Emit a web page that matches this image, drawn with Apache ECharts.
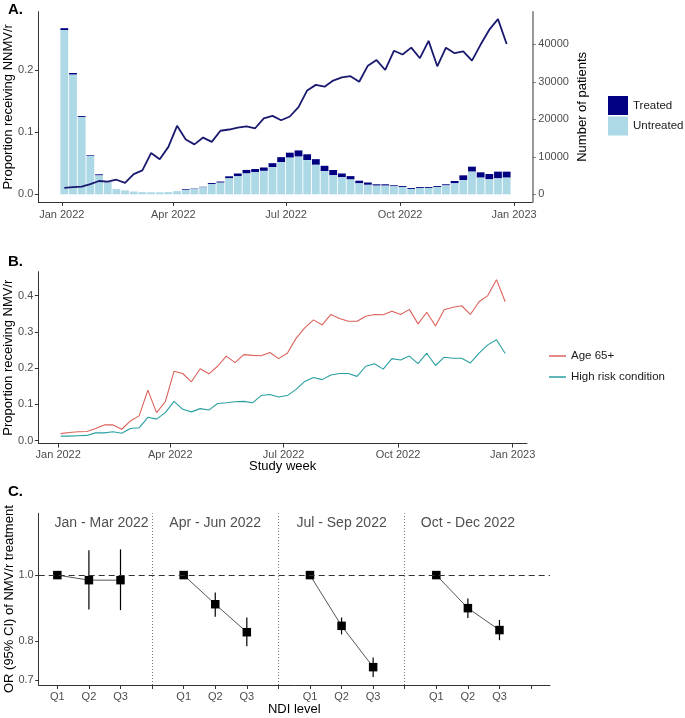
<!DOCTYPE html>
<html><head><meta charset="utf-8">
<script src="https://cdn.jsdelivr.net/npm/echarts@6/dist/echarts.min.js"></script>
<style>html,body{margin:0;padding:0;background:#fff}#c{width:685px;height:718px}</style>
</head><body><div id="c"></div>
<script>
// ---------- DATA ----------
const weeks = ['2022-01-03','2022-01-10','2022-01-17','2022-01-24','2022-01-31','2022-02-07','2022-02-14','2022-02-21','2022-02-28',
  '2022-03-07','2022-03-14','2022-03-21','2022-03-28','2022-04-04','2022-04-11','2022-04-18','2022-04-25','2022-05-02','2022-05-09',
  '2022-05-16','2022-05-23','2022-05-30','2022-06-06','2022-06-13','2022-06-20','2022-06-27','2022-07-04','2022-07-11','2022-07-18',
  '2022-07-25','2022-08-01','2022-08-08','2022-08-15','2022-08-22','2022-08-29','2022-09-05','2022-09-12','2022-09-19','2022-09-26',
  '2022-10-03','2022-10-10','2022-10-17','2022-10-24','2022-10-31','2022-11-07','2022-11-14','2022-11-21','2022-11-28','2022-12-05',
  '2022-12-12','2022-12-19','2022-12-26'];
const untreated = [43800,31900,20630,10280,5030,3040,1370,980,685,560,520,520,585,810,1130,1450,1850,2750,3100,4250,4800,5550,5950,6250,
  7250,8600,9770,10050,9120,7870,6200,5080,4550,3950,2920,2530,2310,2310,2130,1960,1430,1700,1700,1960,2370,2930,3820,6040,4440,3990,4260,4440];
const treated = [500,450,250,200,300,60,30,20,15,10,10,10,15,30,200,100,150,250,300,550,750,950,800,900,
  1050,1300,1330,1650,1550,1500,1400,1400,1000,900,710,620,360,360,270,250,250,250,250,250,300,620,1240,1330,1420,1420,1780,1600];
const propOverall = [0.010,0.011,0.012,0.016,0.021,0.020,0.023,0.018,0.032,0.038,0.066,0.056,0.076,0.110,0.088,0.080,0.091,0.084,0.102,0.104,
  0.107,0.109,0.106,0.122,0.126,0.119,0.125,0.140,0.167,0.176,0.173,0.183,0.188,0.190,0.181,0.207,0.216,0.200,0.231,0.225,
  0.236,0.219,0.247,0.206,0.236,0.227,0.230,0.215,0.241,0.265,0.282,0.242];
const propAge65 = [0.019,0.022,0.024,0.025,0.033,0.043,0.043,0.031,0.054,0.068,0.139,0.077,0.107,0.191,0.185,0.162,0.198,0.184,0.205,0.233,
  0.215,0.237,0.235,0.234,0.243,0.226,0.241,0.282,0.311,0.333,0.319,0.348,0.337,0.329,0.329,0.343,0.348,0.347,0.357,0.348,
  0.362,0.322,0.354,0.316,0.361,0.368,0.372,0.348,0.383,0.400,0.444,0.383];
const propHighRisk = [0.012,0.012,0.013,0.014,0.021,0.021,0.024,0.020,0.033,0.035,0.064,0.059,0.077,0.108,0.086,0.079,0.088,0.084,0.102,0.104,
  0.107,0.108,0.104,0.124,0.127,0.120,0.124,0.141,0.163,0.174,0.168,0.181,0.185,0.185,0.177,0.205,0.212,0.197,0.226,0.222,
  0.233,0.212,0.241,0.207,0.230,0.227,0.227,0.214,0.241,0.264,0.278,0.240];
const quarterDates = ['2022-01-01','2022-04-01','2022-07-01','2022-10-01','2023-01-01'];
const quarterLabels = ['Jan 2022','Apr 2022','Jul 2022','Oct 2022','Jan 2023'];
const ticksA_left = [0, 0.1, 0.2];
const ticksA_right = [0, 10000, 20000, 30000, 40000];
const ticksB = [0, 0.1, 0.2, 0.3, 0.4];
const ticksC = [0.7, 0.8, 1.0];
const ndiLevels = ['Q1','Q2','Q3'];
const periods = ['Jan - Mar 2022','Apr - Jun 2022','Jul - Sep 2022','Oct - Dec 2022'];
const orEst = [[1.0,0.983,0.983],[1.0,0.906,0.824],[1.0,0.842,0.732],[1.0,0.894,0.830]];
const orLo  = [[null,0.890,0.888],[null,0.868,0.786],[null,0.818,0.708],[null,0.865,0.802]];
const orHi  = [[null,1.088,1.091],[null,0.943,0.866],[null,0.866,0.756],[null,0.924,0.859]];

// ---------- helpers ----------
const FF = '"Liberation Sans", Arial, sans-serif';
const DAY = 86400000;
const ts = s => { const p = s.split('-').map(Number); return Date.UTC(p[0],p[1]-1,p[2]); };
const t0 = ts('2022-01-01');
const wDays = weeks.map(s => (ts(s) - t0)/DAY);
const qDays = quarterDates.map(s => (ts(s) - t0)/DAY);
const qLabelDay = v => { const i = qDays.findIndex(d => Math.abs(d - v) < 0.5); return i >= 0 ? quarterLabels[i] : ''; };
const tickColor = '#4d4d4d';
const axisCol = '#333';
const lblStyle = {color: tickColor, fontSize: 11, fontFamily: FF};
const nameStyle = {color: '#000', fontSize: 13, fontFamily: FF};
const BAR_W = 7.8;

const cPos = (f, j) => 4*f + j + 1;
const cLabelVals = [], cLabelText = {};
periods.forEach((p,f)=> ndiLevels.forEach((q,j)=>{ cLabelVals.push(cPos(f,j)); cLabelText[cPos(f,j)] = q; }));
const cTickVals = []; for (let i=1;i<=16;i++) cTickVals.push(i);

const chart = echarts.init(document.getElementById('c'), null, {renderer:'canvas'});

const series = [];
series.push({name:'Untreated', type:'bar', xAxisIndex:0, yAxisIndex:1, barWidth:BAR_W,
  itemStyle:{color:'#ADD8E6'}, data: wDays.map((d,i)=>[d, untreated[i]])});
// Treated segment stacked on top of the Untreated bar
series.push({name:'Treated', type:'custom', xAxisIndex:0, yAxisIndex:1, itemStyle:{color:'#000080'},
  renderItem:(params, api)=>{
    const d = api.value(0), u = api.value(1), t = api.value(2);
    const top = api.coord([d, u + t]), bot = api.coord([d, u]);
    return {type:'rect', shape:{x: top[0] - BAR_W/2, y: top[1], width: BAR_W, height: bot[1] - top[1]}, style:{fill:'#000080'}};
  },
  encode:{x:0, y:[1,2]}, data: wDays.map((d,i)=>[d, untreated[i], treated[i]])});
series.push({name:'Overall', type:'line', xAxisIndex:0, yAxisIndex:0, symbol:'none', z:5,
  lineStyle:{color:'#191970', width:1.8}, data: wDays.map((d,i)=>[d, propOverall[i]])});
series.push({name:'Age 65+', type:'line', xAxisIndex:1, yAxisIndex:2, symbol:'none',
  itemStyle:{color:'#DC625B'}, lineStyle:{color:'#DC625B', width:1.1}, data: wDays.map((d,i)=>[d, propAge65[i]])});
series.push({name:'High risk condition', type:'line', xAxisIndex:1, yAxisIndex:2, symbol:'none',
  itemStyle:{color:'#2A9FA1'}, lineStyle:{color:'#2A9FA1', width:1.1}, data: wDays.map((d,i)=>[d, propHighRisk[i]])});

const ciData = [];
periods.forEach((p,f)=>{
  series.push({name:'or'+f, type:'line', xAxisIndex:2, yAxisIndex:3, symbol:'rect', symbolSize:8.5, z:4,
    itemStyle:{color:'#000'}, lineStyle:{color:'#555', width:1},
    data: ndiLevels.map((q,j)=>[cPos(f,j), orEst[f][j]]),
    markLine: f===0 ? {silent:true, symbol:'none', label:{show:false},
      data:[{yAxis:1.0, lineStyle:{type:[6,4], color:'#333', width:1}},
            {xAxis:4, lineStyle:{type:[1,2], color:'#777', width:1}},
            {xAxis:8, lineStyle:{type:[1,2], color:'#777', width:1}},
            {xAxis:12, lineStyle:{type:[1,2], color:'#777', width:1}}]} : undefined
  });
  ndiLevels.forEach((q,j)=>{ if (orLo[f][j] != null) ciData.push([cPos(f,j), orLo[f][j], orHi[f][j]]); });
});
series.push({name:'ci', type:'custom', xAxisIndex:2, yAxisIndex:3, z:3,
  renderItem:(params, api)=>{ const a = api.coord([api.value(0), api.value(1)]); const b = api.coord([api.value(0), api.value(2)]);
    return {type:'line', shape:{x1:a[0], y1:a[1], x2:b[0], y2:b[1]}, style:{stroke:'#000', lineWidth:1.2}}; },
  encode:{x:0, y:[1,2]}, data: ciData});
const periodLabelPos = [[2.4,1.193],[6,1.193],[10,1.193],[14,1.193]];
series.push({name:'periods', type:'scatter', xAxisIndex:2, yAxisIndex:3, symbolSize:0, silent:true,
  label:{show:true, position:'inside', formatter: p => p.name, color:'#222', fontSize:14, fontFamily:FF},
  data: periods.map((p,f)=>({name:p, value: periodLabelPos[f]}))});

const yName = (text, gap) => ({name:text, nameLocation:'middle', nameGap:gap, nameRotate:90, nameMoveOverlap:false, nameTextStyle:nameStyle});

const option = {
  animation:false,
  backgroundColor:'#fff',
  title:[
    {text:'A.', left:8, top:2, padding:0, textStyle:{fontSize:15, fontWeight:'bold', color:'#000', fontFamily:FF}},
    {text:'B.', left:8, top:254, padding:0, textStyle:{fontSize:15, fontWeight:'bold', color:'#000', fontFamily:FF}},
    {text:'C.', left:8, top:484, padding:0, textStyle:{fontSize:15, fontWeight:'bold', color:'#000', fontFamily:FF}}
  ],
  legend:[
    {data:['Treated','Untreated'], orient:'vertical', left:608, top:96, padding:0, itemWidth:20, itemHeight:19, itemGap:1.5, icon:'rect',
     selectedMode:false, textStyle:{fontSize:11.5, color:'#1a1a1a', fontFamily:FF}},
    {data:['Age 65+','High risk condition'], orient:'vertical', left:549, top:350, padding:0, itemWidth:17, itemHeight:1.5, itemGap:9, icon:'rect',
     selectedMode:false, textStyle:{fontSize:11.5, color:'#1a1a1a', fontFamily:FF}}
  ],
  grid:[
    {left:38.3, top:11.7, width:494, height:190.3, containLabel:false, outerBoundsMode:'none'},
    {left:38.3, top:271.7, width:488.7, height:171.8, containLabel:false, outerBoundsMode:'none'},
    {left:38.7, top:513.3, width:511.3, height:171.7, containLabel:false, outerBoundsMode:'none'}
  ],
  xAxis:[
    {gridIndex:0, type:'value', min:-19, max:379.7, splitLine:{show:false},
     axisLine:{onZero:false, lineStyle:{color:axisCol}}, axisTick:{customValues:qDays, length:4, lineStyle:{color:axisCol}},
     axisLabel:Object.assign({customValues:qDays, formatter:qLabelDay, margin:7}, lblStyle)},
    {gridIndex:1, type:'value', min:-16, max:376.5, splitLine:{show:false},
     name:'Study week', nameLocation:'middle', nameGap:16, nameMoveOverlap:false, nameTextStyle:nameStyle,
     axisLine:{onZero:false, lineStyle:{color:axisCol}}, axisTick:{customValues:qDays, length:4, lineStyle:{color:axisCol}},
     axisLabel:Object.assign({customValues:qDays, formatter:qLabelDay, margin:6}, lblStyle)},
    {gridIndex:2, type:'value', min:0.41, max:16.6, splitLine:{show:false},
     name:'NDI level', nameLocation:'middle', nameGap:18, nameMoveOverlap:false, nameTextStyle:nameStyle,
     axisLine:{onZero:false, lineStyle:{color:axisCol}}, axisTick:{customValues:cTickVals, length:4, lineStyle:{color:axisCol}},
     axisLabel:Object.assign({customValues:cLabelVals, formatter:v=>cLabelText[Math.round(v)]||'', margin:6}, lblStyle)}
  ],
  yAxis:[
    Object.assign({gridIndex:0, type:'value', min:-0.0129, max:0.294, splitLine:{show:false},
     axisLine:{onZero:false, lineStyle:{color:axisCol}}, axisTick:{customValues:ticksA_left, length:3.5, lineStyle:{color:axisCol}},
     axisLabel:Object.assign({customValues:ticksA_left, formatter:v=>v.toFixed(1), margin:5}, lblStyle)}, yName('Proportion receiving NNMV/r', 23)),
    Object.assign({gridIndex:0, type:'value', position:'right', min:-2053, max:48693, splitLine:{show:false},
     axisLine:{onZero:false, lineStyle:{color:'#777', width:1.5}}, axisTick:{customValues:ticksA_right, length:3.5, lineStyle:{color:'#777'}},
     axisLabel:Object.assign({customValues:ticksA_right, formatter:v=>String(v), margin:6}, lblStyle)}, yName('Number of patients', 44)),
    Object.assign({gridIndex:1, type:'value', min:-0.0083, max:0.466, splitLine:{show:false},
     axisLine:{onZero:false, lineStyle:{color:axisCol}}, axisTick:{customValues:ticksB, length:3.5, lineStyle:{color:axisCol}},
     axisLabel:Object.assign({customValues:ticksB, formatter:v=>v.toFixed(1), margin:5}, lblStyle)}, yName('Proportion receiving NMV/r', 23)),
    Object.assign({gridIndex:2, type:'log', logBase:10, min:0.689, max:1.233, splitLine:{show:false},
     axisLine:{onZero:false, lineStyle:{color:axisCol}}, axisTick:{customValues:ticksC, length:3.5, lineStyle:{color:axisCol}},
     axisLabel:Object.assign({customValues:ticksC, formatter:v=>(+v).toFixed(1), margin:5}, lblStyle)}, yName('OR (95% CI) of NMV/r treatment', 23))
  ],
  series: series
};
chart.setOption(option);
</script>
</body></html>
